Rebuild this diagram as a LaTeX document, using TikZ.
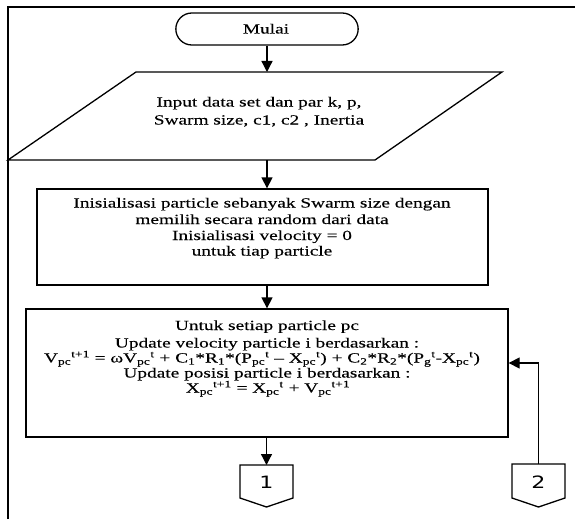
\documentclass[tikz,border=0pt]{standalone}
\usepackage{fontspec}
\setmainfont{Liberation Serif}[FakeStretch=1.38, FakeBold=0.15]
\newfontfamily\connfont{DejaVu Sans}[FakeStretch=1.3]
\usetikzlibrary{arrows.meta,shapes.misc}

\newcommand{\vsub}[2]{\textsubscript{#1}\textsuperscript{#2}}

\tikzset{
  shape line/.style={draw=black, line width=1.3pt},
  flow/.style={line width=1.3pt, -{Triangle[length=11pt,width=11pt]}},
  body/.style={inner sep=0pt, anchor=base, font=\fontsize{14}{16}\selectfont},
  conntext/.style={inner sep=0pt, font=\connfont\fontsize{17}{17}\selectfont},
}

\begin{document}
\begin{tikzpicture}[x=1pt, y=-1pt]
\useasboundingbox (0,0) rectangle (575,519);

% page frame (top and left edges)
\draw[line width=2pt] (7.5,519) -- (7.5,7) -- (575,7);

% start terminal
\node[shape line, rounded rectangle, minimum width=189pt, minimum height=32pt]
  (mulai) at (267,29) {};
\node[body] (mulaitext) at (266,33.5) {Mulai};

% input parallelogram
\draw[shape line] (136,72) -- (502,72) -- (375,160) -- (8,160) -- cycle;
\coordinate (intop) at (267,72);
\coordinate (inbot) at (267,160);
\node[body] (in1) at (259,106.5) {Input data set dan par k, p,};
\node[body] (in2) at (259,124.5) {Swarm size, c1, c2 , Inertia};

% initialisation box
\node[shape line, minimum width=451pt, minimum height=96pt, inner sep=0pt]
  (init) at (262.5,237) {};
\node[body] (init1) at (262,207.5) {Inisialisasi particle sebanyak Swarm size dengan};
\node[body] (init2) at (262,224)   {memilih secara random dari data};
\node[body] (init3) at (262,240)   {Inisialisasi velocity = 0};
\node[body] (init4) at (262,255.5) {untuk tiap particle};

% update box
\node[shape line, minimum width=482pt, minimum height=128pt, inner sep=0pt]
  (proc) at (267,373) {};
\node[body] (proc1) at (267,330)   {Untuk setiap particle pc};
\node[body] (proc2) at (267,347.5) {Update velocity particle i berdasarkan :};
\node[body] (proc3) at (262,362.5)
  {V\vsub{pc}{t+1} = ωV\vsub{pc}{t} + C\textsubscript{1}*R\textsubscript{1}*(P\vsub{pc}{t} – X\vsub{pc}{t}) + C\textsubscript{2}*R\textsubscript{2}*(P\vsub{g}{t}-X\vsub{pc}{t})};
\node[body] (proc4) at (267,377.5) {Update posisi particle i berdasarkan :};
\node[body] (proc5) at (268,392.5)
  {X\vsub{pc}{t+1} = X\vsub{pc}{t} + V\vsub{pc}{t+1}};

% off-page connector 1
\draw[shape line] (240,465) -- (293,465) -- (293,498) -- (266.5,507)
  -- (240,498) -- cycle;
\coordinate (c1top) at (266.5,465);
\node[conntext] (c1) at (266.5,482) {1};

% off-page connector 2
\draw[shape line] (512,464) -- (565,464) -- (565,498) -- (538.5,507)
  -- (512,498) -- cycle;
\coordinate (c2top) at (538.5,464);
\node[conntext] (c2) at (538.5,482) {2};

% flow lines
\draw[flow] (mulai.south) -- (intop);
\draw[flow] (inbot) -- (init.north -| inbot);
\draw[flow] (init.south -| inbot) -- (proc.north -| inbot);
\draw[flow] (proc.south -| c1top) -- (c1top);
\draw[flow] (c2top) |- ([yshift=10pt]proc.east);
\end{tikzpicture}
\end{document}
